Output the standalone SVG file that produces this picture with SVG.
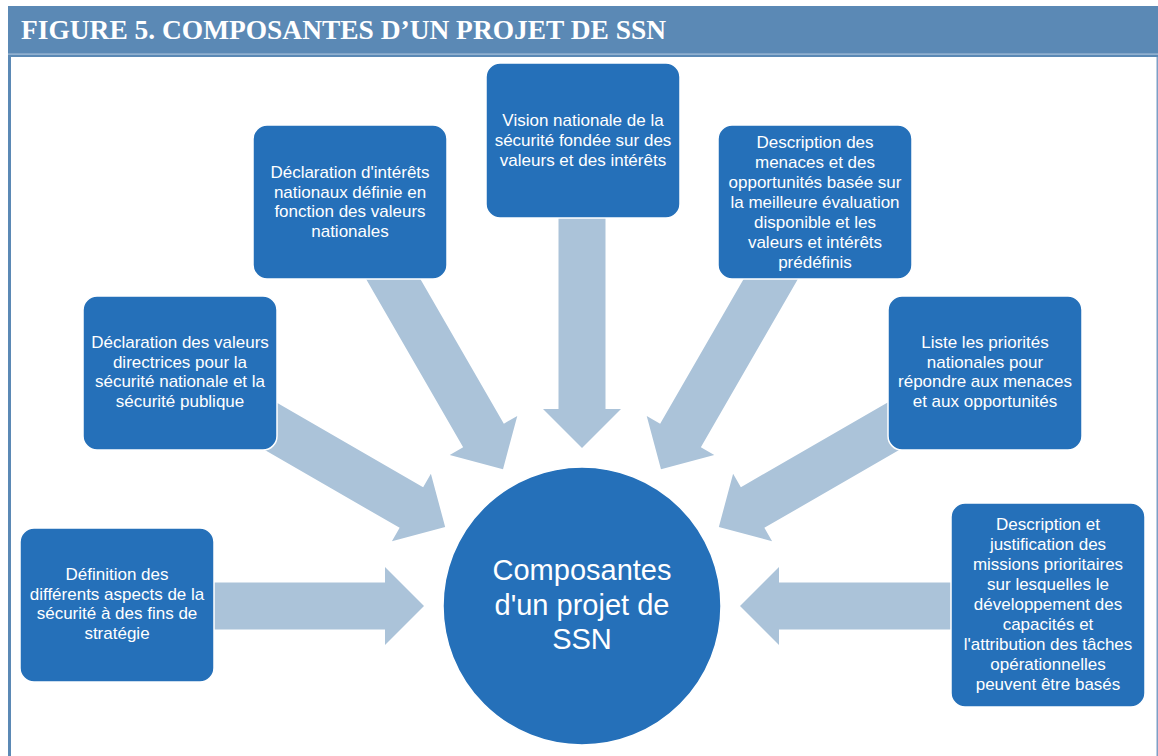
<svg xmlns="http://www.w3.org/2000/svg" xmlns:xlink="http://www.w3.org/1999/xlink" width="1158" height="756" viewBox="0 0 1158 756">
<style>
.box{fill:#2570b9;stroke:#ffffff;stroke-width:1.5}
.t{font-family:"Liberation Sans","Open Sans",sans-serif;font-size:17px;fill:#ffffff;text-anchor:middle}
.ct{font-family:"Liberation Sans","Open Sans",sans-serif;font-size:29px;fill:#ffffff;text-anchor:middle}
.arrow{fill:#abc3d9}
</style>
<defs>
<path id="arr" d="M0,0 L39,-39 L23.5,-39 L23.5,-260 L-23.5,-260 L-23.5,-39 L-39,-39 Z"/>
</defs>
<rect x="0" y="0" width="1158" height="756" fill="#ffffff"/>
<g id="title">
<rect x="8" y="6" width="1150" height="51" fill="#5b89b5"/>
<rect x="8" y="53.5" width="1150" height="1.2" fill="#a9c2dc"/>
<rect x="8" y="57" width="3" height="699" fill="#5b89b5"/>
<rect x="1156.5" y="57" width="1.5" height="699" fill="#7e9fc6"/>
<text x="21" y="39" font-family="'Liberation Serif',serif" font-weight="bold" font-size="27" fill="#ffffff" textLength="645" lengthAdjust="spacingAndGlyphs">FIGURE 5. COMPOSANTES D’UN PROJET DE SSN</text>
</g>
<g id="connectors" class="arrow">
<use xlink:href="#arr" href="#arr" transform="translate(582 606) rotate(0) translate(0 -158)"/>
<use xlink:href="#arr" href="#arr" transform="translate(582 606) rotate(-30) translate(0 -158)"/>
<use xlink:href="#arr" href="#arr" transform="translate(582 606) rotate(30) translate(0 -158)"/>
<use xlink:href="#arr" href="#arr" transform="translate(582 606) rotate(-60) translate(0 -158)"/>
<use xlink:href="#arr" href="#arr" transform="translate(582 606) rotate(60) translate(0 -158)"/>
<use xlink:href="#arr" href="#arr" transform="translate(582 606) rotate(-90) translate(0 -158)"/>
<use xlink:href="#arr" href="#arr" transform="translate(582 606) rotate(90) translate(0 -158)"/>
</g>
<g id="node-vision">
<rect class="box" x="486" y="63" width="194" height="155" rx="14"/>
<text class="t" x="583" y="126">Vision nationale de la</text>
<text class="t" x="583" y="146">sécurité fondée sur des</text>
<text class="t" x="583" y="166">valeurs et des intérêts</text>
</g>
<g id="node-interets">
<rect class="box" x="253" y="125" width="194" height="154" rx="14"/>
<text class="t" x="350" y="178">Déclaration d'intérêts</text>
<text class="t" x="350" y="197.7">nationaux définie en</text>
<text class="t" x="350" y="217.4">fonction des valeurs</text>
<text class="t" x="350" y="237">nationales</text>
</g>
<g id="node-menaces">
<rect class="box" x="718" y="125" width="194" height="154" rx="14"/>
<text class="t" x="815" y="148">Description des</text>
<text class="t" x="815" y="168">menaces et des</text>
<text class="t" x="815" y="188">opportunités basée sur</text>
<text class="t" x="815" y="208">la meilleure évaluation</text>
<text class="t" x="815" y="228">disponible et les</text>
<text class="t" x="815" y="248">valeurs et intérêts</text>
<text class="t" x="815" y="268">prédéfinis</text>
</g>
<g id="node-valeurs">
<rect class="box" x="83" y="296" width="194" height="154" rx="14"/>
<text class="t" x="180" y="348">Déclaration des valeurs</text>
<text class="t" x="180" y="367.7">directrices pour la</text>
<text class="t" x="180" y="387.4">sécurité nationale et la</text>
<text class="t" x="180" y="407">sécurité publique</text>
</g>
<g id="node-priorites">
<rect class="box" x="888" y="296" width="194" height="154" rx="14"/>
<text class="t" x="985" y="348">Liste les priorités</text>
<text class="t" x="985" y="367.7">nationales pour</text>
<text class="t" x="985" y="387.4">répondre aux menaces</text>
<text class="t" x="985" y="407">et aux opportunités</text>
</g>
<g id="node-definition">
<rect class="box" x="20" y="528" width="194" height="154" rx="14"/>
<text class="t" x="117" y="580">Définition des</text>
<text class="t" x="117" y="599.7">différents aspects de la</text>
<text class="t" x="117" y="619.4">sécurité à des fins de</text>
<text class="t" x="117" y="639">stratégie</text>
</g>
<g id="node-missions">
<rect class="box" x="951" y="503" width="194" height="204" rx="14"/>
<text class="t" x="1048" y="530">Description et</text>
<text class="t" x="1048" y="550">justification des</text>
<text class="t" x="1048" y="570">missions prioritaires</text>
<text class="t" x="1048" y="590">sur lesquelles le</text>
<text class="t" x="1048" y="610">développement des</text>
<text class="t" x="1048" y="630">capacités et</text>
<text class="t" x="1048" y="650">l'attribution des tâches</text>
<text class="t" x="1048" y="670">opérationnelles</text>
<text class="t" x="1048" y="690">peuvent être basés</text>
</g>
<g id="node-center">
<circle cx="582" cy="606" r="139" fill="#2570b9" stroke="#ffffff" stroke-width="1.5"/>
<text class="ct" x="582" y="580">Composantes</text>
<text class="ct" x="582" y="614.5">d'un projet de</text>
<text class="ct" x="582" y="649">SSN</text>
</g>
</svg>
